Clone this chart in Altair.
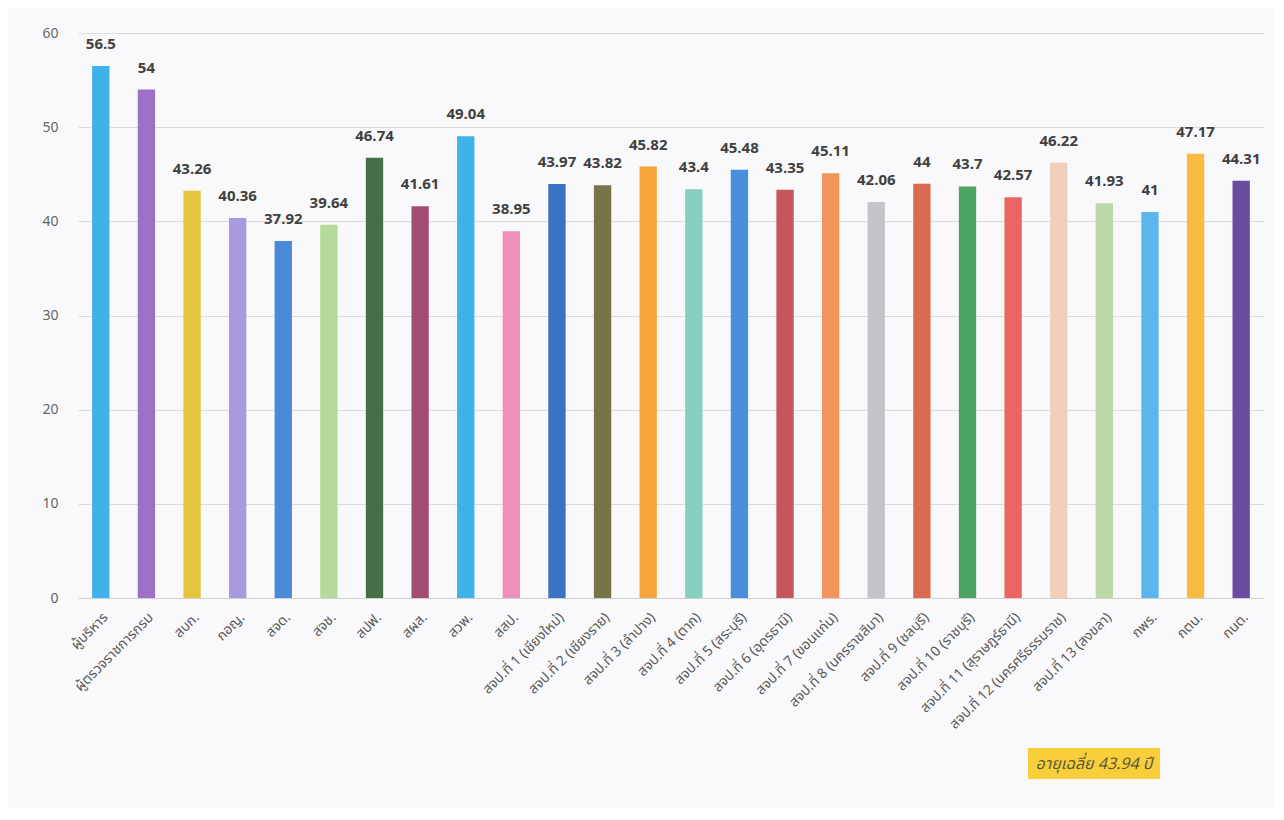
import altair as alt
import pandas as pd

categories = [
    "ผู้บริหาร", "ผู้ตรวจราชการกรม", "สบก.", "กอญ.", "สจด.", "สจช.", "สปฟ.", "สผส.",
    "สวพ.", "สสป.", "สจป.ที่ 1 (เชียงใหม่)", "สจป.ที่ 2 (เชียงราย)", "สจป.ที่ 3 (ลำปาง)",
    "สจป.ที่ 4 (ตาก)", "สจป.ที่ 5 (สระบุรี)", "สจป.ที่ 6 (อุดรธานี)", "สจป.ที่ 7 (ขอนแก่น)",
    "สจป.ที่ 8 (นครราชสีมา)", "สจป.ที่ 9 (ชลบุรี)", "สจป.ที่ 10 (ราชบุรี)",
    "สจป.ที่ 11 (สุราษฎร์ธานี)", "สจป.ที่ 12 (นครศรีธรรมราช)", "สจป.ที่ 13 (สงขลา)",
    "กพร.", "กตน.", "กนต.",
]
values = [56.5, 54, 43.26, 40.36, 37.92, 39.64, 46.74, 41.61, 49.04, 38.95, 43.97, 43.82,
          45.82, 43.4, 45.48, 43.35, 45.11, 42.06, 44, 43.7, 42.57, 46.22, 41.93, 41, 47.17, 44.31]
colors = ["#3fb2ea", "#9b72c6", "#e5c43e", "#a99ae0", "#4a8ad8", "#b6d99c", "#456f45", "#a34c72",
          "#3fb2ea", "#ee8fba", "#3a72c4", "#777448", "#f5a43a", "#86cfbf", "#4a8fde", "#c4565c",
          "#f2955a", "#c6c4c8", "#d86a50", "#4aa660", "#ec6464", "#f2cfbb", "#bcd8a6", "#5cb6ee",
          "#f7bb40", "#6a4ca0"]
annotation = "อายุเฉลี่ย 43.94 ปี"

df = pd.DataFrame({"cat": categories, "val": values, "color": colors})

FONT = "Tahoma, 'Noto Sans Thai', 'Noto Sans', sans-serif"

base = alt.Chart(df)

bars = base.mark_bar().encode(
    x=alt.X("cat:N", sort=categories, title=None,
            scale=alt.Scale(paddingInner=0.62, paddingOuter=0.31),
            axis=alt.Axis(labelAngle=-45, labelFontSize=14, labelColor="#595959",
                          labelFont=FONT, domainColor="#d0d0d0", ticks=False,
                          labelPadding=12, grid=False, labelLimit=300)),
    y=alt.Y("val:Q", title=None,
            scale=alt.Scale(domain=[0, 60], nice=False),
            axis=alt.Axis(values=[0, 10, 20, 30, 40, 50, 60], labelFontSize=14,
                          labelColor="#666666", labelFont=FONT, domain=False, ticks=False,
                          gridColor="#dcdcdc", labelPadding=20)),
    color=alt.Color("color:N", scale=None),
)

texts = base.mark_text(dy=-22, fontSize=15, fontWeight="bold", color="#404040", font=FONT).encode(
    x=alt.X("cat:N", sort=categories),
    y="val:Q",
    text=alt.Text("val:Q"),
)

ann_df = pd.DataFrame({"t": [annotation]})
ann_box = alt.Chart(ann_df).mark_rect(color="#f8cf3a").encode(
    x=alt.value(950), x2=alt.value(1082), y=alt.value(715), y2=alt.value(746)
)
ann_text = alt.Chart(ann_df).mark_text(fontSize=16, fontStyle="italic", color="#5a5a3a",
                                       font=FONT, align="center").encode(
    x=alt.value(1016), y=alt.value(731), text="t:N"
)

chart = alt.layer(bars, texts, ann_box, ann_text).properties(
    width=1186, height=565,
    autosize=alt.AutoSizeParams(type="none"),
    padding={"left": 70, "top": 25, "right": 10, "bottom": 210},
    background="#f9f9fb",
).configure_view(stroke=None)

chart.save("out.html", embed_options={"renderer": "svg", "actions": False})
